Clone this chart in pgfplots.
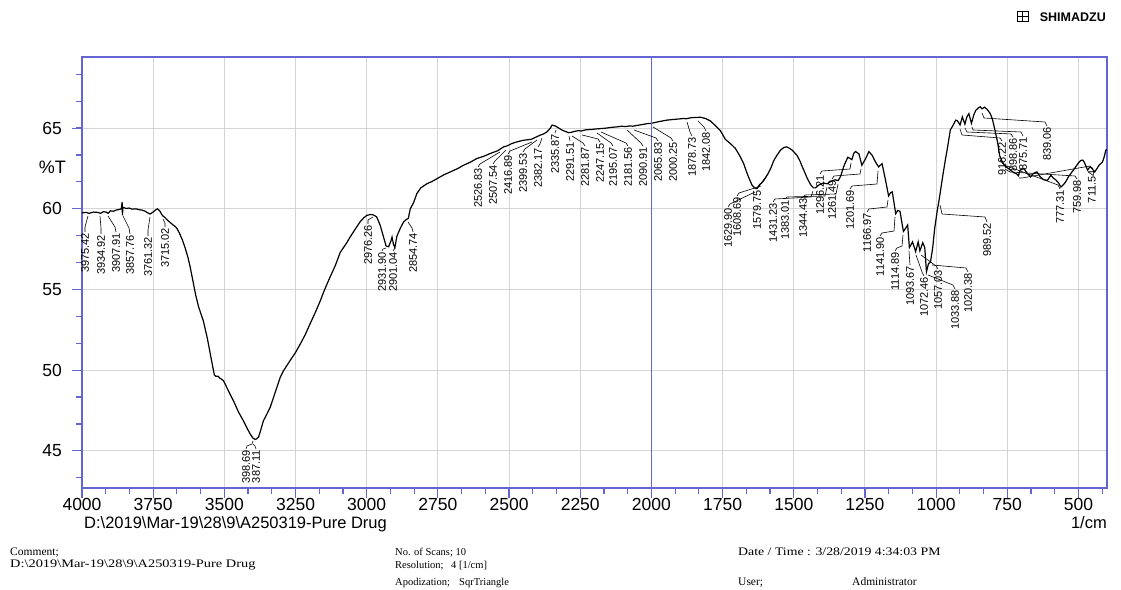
\documentclass[border=0pt]{standalone}
\usepackage{fontspec}
\usepackage{graphicx}
\setmainfont{Liberation Sans}
\newfontfamily\serif{Liberation Serif}
\usepackage{pgfplots}
\pgfplotsset{compat=1.18}
\definecolor{axblue}{RGB}{100,100,210}
\definecolor{gridgray}{RGB}{212,212,216}
\newcommand{\pkfont}{\fontsize{11}{11}\selectfont}
\newcommand{\pk}[3]{\node[rotate=90,anchor=east,inner sep=0pt,font=\pkfont] at (#1,#2) {#3};}
\begin{document}
\begin{tikzpicture}
\path[use as bounding box] (0,0) rectangle (1121pt,589pt);
\begin{axis}[
  at={(82pt,101pt)}, anchor=south west,
  width=1025pt, height=431pt, scale only axis,
  x dir=reverse, xmin=400, xmax=4000, ymin=42.7, ymax=69.41,
  xtick={500,750,...,4000}, ytick={45,50,...,65},
  minor xtick={416.667,500,...,4000}, minor ytick={43.333,45,...,68.4},
  tick pos=left, tick align=outside,
  major tick length=10pt, minor tick length=6pt,
  xmajorgrids, ymajorgrids,
  grid style={color=gridgray, line width=1pt},
  axis line style={color=axblue, line width=1.5pt},
  every tick/.style={color=axblue, line width=1.2pt},
  /pgf/number format/assume math mode=true,
  /pgf/number format/1000 sep={},
  ticklabel style={font=\fontsize{17.5}{17.5}\selectfont},
  xticklabel style={inner sep=0pt, yshift=0pt},
  yticklabel style={inner sep=0pt, xshift=-10pt},
]
\addplot[black, line width=1.2pt, mark=none] coordinates {
(4000,59.75)(3985,59.78)(3975,59.72)(3960,59.8)(3945,59.78)(3935,59.72)(3925,59.82)(3915,59.8)(3908,59.72)(3900,59.88)(3890,59.85)(3880,59.92)(3870,59.96)(3862,60.0)(3859,60.42)(3858,59.6)(3856,60.1)(3845,60.02)(3835,60.05)(3824,59.98)(3810,60.0)(3800,59.95)(3789,59.92)(3778,59.85)(3766,59.72)(3761,59.68)(3752,59.78)(3742,59.92)(3735,60.0)(3726,59.85)(3720,59.65)(3715,59.55)(3708,59.45)(3700,59.3)(3690,59.15)(3680,59.0)(3672,58.9)(3666,58.77)(3658,58.5)(3648,58.1)(3638,57.6)(3628,57.0)(3620,56.4)(3610,55.5)(3600,54.6)(3590,53.9)(3574,53.07)(3560,52.0)(3545,50.6)(3535,49.7)(3530,49.62)(3522,49.62)(3515,49.5)(3503,49.35)(3485,48.7)(3468,48.1)(3450,47.4)(3433,46.86)(3420,46.4)(3409,46.04)(3399,45.78)(3392,45.72)(3387,45.74)(3380,45.85)(3372,46.3)(3363,46.86)(3350,47.3)(3339,47.7)(3320,48.7)(3304,49.55)(3292,49.97)(3280,50.3)(3269,50.6)(3250,51.1)(3234,51.6)(3216,52.2)(3199,52.87)(3180,53.6)(3163,54.3)(3150,54.9)(3134,55.56)(3110,56.5)(3093,57.3)(3070,57.9)(3058,58.26)(3040,58.75)(3023,59.2)(3010,59.45)(2999,59.6)(2985,59.65)(2976,59.62)(2965,59.5)(2953,59.0)(2940,58.2)(2932,57.7)(2923,57.65)(2915,58.0)(2911,58.25)(2906,57.8)(2901,57.6)(2894,58.3)(2882,58.8)(2870,59.2)(2860,59.35)(2854,59.4)(2847,60.0)(2835,60.4)(2824,60.94)(2810,61.3)(2788,61.56)(2770,61.7)(2753,61.87)(2730,62.1)(2706,62.29)(2680,62.5)(2660,62.7)(2635,62.9)(2613,63.12)(2590,63.25)(2566,63.43)(2540,63.6)(2527,63.75)(2519,63.84)(2507,63.9)(2490,64.05)(2472,64.15)(2450,64.25)(2425,64.3)(2417,64.35)(2405,64.45)(2399,64.5)(2390,64.57)(2382,64.62)(2375,64.68)(2367,64.77)(2355,65.0)(2349,65.19)(2340,65.15)(2336,65.12)(2325,65.0)(2314,64.88)(2300,64.78)(2291,64.72)(2282,64.74)(2270,64.8)(2255,64.85)(2247,64.82)(2230,64.9)(2210,64.92)(2195,64.95)(2181,64.97)(2160,65.0)(2140,65.05)(2121,65.08)(2105,65.12)(2091,65.1)(2075,65.14)(2066,65.12)(2040,65.2)(2015,65.28)(2000,65.3)(1975,65.4)(1945,65.5)(1915,65.55)(1887,65.6)(1879,65.58)(1860,65.65)(1842,65.66)(1828,65.68)(1810,65.6)(1793,65.45)(1775,65.15)(1758,64.85)(1740,64.3)(1723,64.05)(1705,63.74)(1690,63.3)(1676,62.8)(1664,62.2)(1655,61.8)(1646,61.45)(1638,61.3)(1630,61.25)(1620,61.5)(1609,61.67)(1600,61.9)(1590,62.2)(1580,62.55)(1570,63.0)(1558,63.35)(1547,63.63)(1535,63.8)(1525,63.84)(1515,63.75)(1505,63.63)(1488,63.3)(1478,62.95)(1470,62.6)(1460,62.2)(1453,61.9)(1441,61.5)(1431,61.3)(1424,61.3)(1410,61.5)(1395,61.6)(1383,61.55)(1370,61.7)(1355,61.8)(1344,61.75)(1336,62.0)(1325,62.6)(1318,62.9)(1310,63.2)(1296,63.05)(1289,63.45)(1283,63.55)(1271,63.4)(1261,62.7)(1248,63.1)(1236,63.55)(1224,63.3)(1213,62.9)(1202,62.6)(1190,62.8)(1178,61.8)(1167,60.8)(1160,61.0)(1154,61.05)(1142,59.7)(1135,59.9)(1127,59.85)(1115,58.6)(1107,58.8)(1100,59.0)(1094,57.6)(1083,57.95)(1072,57.35)(1063,57.95)(1057,57.4)(1047,57.9)(1040,57.6)(1034,56.1)(1027,56.6)(1020,56.7)(1012,57.6)(1005,58.8)(996,59.9)(990,60.5)(978,61.9)(968,63.0)(960,63.8)(950,64.9)(943,65.1)(931,65.5)(925,65.45)(916,65.2)(908,65.7)(899,65.25)(892,65.7)(885,65.9)(876,65.3)(868,65.8)(861,66.1)(850,66.28)(845,66.32)(839,66.2)(830,66.3)(820,66.15)(810,65.9)(803,65.6)(795,65.0)(790,64.6)(784,64.1)(777,63.3)(770,63.0)(760,62.7)(750,62.55)(739,62.4)(728,62.25)(716,62.15)(711,62.05)(705,62.4)(692,62.5)(680,62.2)(669,61.98)(658,62.2)(646,62.29)(635,62.0)(622,61.8)(609,61.77)(597,62.08)(588,61.9)(580,61.8)(570,61.6)(562,61.35)(553,61.5)(545,61.67)(535,62.0)(527,62.19)(510,62.6)(500,62.85)(492,63.0)(485,63.02)(480,62.9)(468,62.4)(460,62.6)(454,62.56)(448,62.4)(443,62.29)(435,62.5)(428,62.7)(416,62.9)(410,63.2)(404,63.63)(400,63.7)
};
\end{axis}
\begin{scope}[x=1pt,y=-1pt,yshift=589pt]
\draw[axblue, line width=1.6pt] (651.3,57.5) -- (651.3,498);
\node[anchor=base east,font=\fontsize{18}{18}\selectfont,inner sep=0pt] at (66,174) {\%T};
\node[anchor=base west,font=\fontsize{16.5}{16.5}\selectfont,inner sep=0pt] at (84,529) {D:\textbackslash 2019\textbackslash Mar-19\textbackslash 28\textbackslash 9\textbackslash A250319-Pure Drug};
\node[anchor=base east,font=\fontsize{16.5}{16.5}\selectfont,inner sep=0pt] at (1107,529) {1/cm};
% logo
\draw[line width=1pt] (1017,12) rectangle (1028,22);
\draw[line width=1pt] (1022.5,12) -- (1022.5,22) (1017,17) -- (1028,17);
\node[anchor=base east,font=\bfseries\fontsize{12.5}{12.5}\selectfont,inner sep=0pt] at (1106,22) {SHIMADZU};
% info
\begin{scope}[every node/.style={anchor=base west,inner sep=0pt,font=\serif\fontsize{11.5}{11.5}\selectfont}]
\node at (10,555) {Comment;};
\node at (10,567) {\scalebox{1.25}[1]{D:\textbackslash 2019\textbackslash Mar-19\textbackslash 28\textbackslash 9\textbackslash A250319-Pure Drug}};
\node at (738,555) {\scalebox{1.2}[1]{Date / Time : 3/28/2019 4:34:03 PM}};
\node at (738,585) {User;};
\node at (852,585) {Administrator};
\end{scope}
\begin{scope}[every node/.style={anchor=base west,inner sep=0pt,font=\serif\fontsize{10.5}{10.5}\selectfont}]
\node at (395,555) {No. of Scans; 10};
\node at (395,569) {Resolution;};
\node at (451,569) {4 [1/cm]};
\node at (395,585) {Apodization;};
\node at (459,585) {SqrTriangle};
\end{scope}
% peak labels
\pk{85}{233}{3975.42}\pk{101}{235}{3934.92}\pk{116}{233}{3907.91}\pk{130}{235}{3857.76}\pk{148}{237}{3761.32}\pk{165}{228}{3715.02}
\pk{246}{450}{398.69}\pk{256}{450}{387.11}
\pk{368}{225}{2976.26}\pk{382}{252}{2931.90}\pk{393}{252}{2901.04}\pk{413}{233}{2854.74}
\pk{478}{168}{2526.83}\pk{493}{165}{2507.54}\pk{508}{155}{2416.89}\pk{523}{153}{2399.53}\pk{538}{148}{2382.17}\pk{555}{134}{2335.87}
\pk{570}{142}{2291.51}\pk{585}{147}{2281.87}\pk{600}{143}{2247.15}\pk{613}{147}{2195.07}\pk{628}{147}{2181.56}\pk{643}{147}{2090.91}
\pk{658}{142}{2065.83}\pk{673}{142}{2000.25}\pk{692}{137}{1878.73}\pk{706}{132}{1842.08}
\pk{728}{208}{1629.90}\pk{737}{197}{1608.69}\pk{757}{190}{1579.75}
\pk{773}{203}{1431.23}\pk{785}{200}{1383.01}\pk{803}{198}{1344.43}
\pk{820}{175}{1296.21}\pk{832}{180}{1261.49}\pk{850}{190}{1201.69}\pk{867}{213}{1166.97}\pk{880}{237}{1141.90}\pk{895}{252}{1114.89}
\pk{910}{266}{1093.67}\pk{924}{277}{1072.46}\pk{938}{270}{1057.03}\pk{955}{290}{1033.88}\pk{968}{273}{1020.38}\pk{987}{223}{989.52}
\pk{1002}{142}{916.22}\pk{1013}{138}{898.86}\pk{1023}{137}{875.71}\pk{1047}{127}{839.06}
\pk{1060}{190}{777.31}\pk{1077}{180}{759.98}\pk{1092}{170}{711.54}
\begin{scope}[line width=0.6pt]
\draw (85,232)--(85,227)--(88,216);
\draw (101,234)--(101,228)--(100,216);
\draw (116,232)--(115,227)--(108,216);
\draw (130,234)--(129,228)--(123,216);
\draw (148,236)--(148,230)--(150,217);
\draw (165,227)--(165,223)--(163,219);
\draw (246,449)--(247,446)--(252,444)--(253,441);
\draw (256,449)--(255,446)--(253,444);
\draw (368,224)--(368,220)--(373,217);
\draw (382,251)--(383,249)--(386,248);
\draw (393,251)--(395,248);
\draw (413,232)--(412,228)--(408,222);
\draw (478,167)--(480,164)--(500,152);
\draw (493,164)--(495,161)--(506,150);
\draw (508,154)--(510,151)--(532,142);
\draw (523,152)--(525,149)--(537,140);
\draw (538,147)--(540,144)--(542,138);
\draw (555,133)--(556,130);
\draw (570,141)--(569,136);
\draw (585,146)--(583,143)--(572,136);
\draw (600,142)--(598,139)--(582,135);
\draw (613,146)--(611,143)--(597,133);
\draw (628,146)--(626,143)--(601,132);
\draw (643,146)--(641,143)--(627,130);
\draw (658,141)--(656,138)--(634,130);
\draw (673,141)--(671,138)--(653,127);
\draw (692,136)--(690,132)--(687,122);
\draw (706,131)--(704,127)--(698,121);
\draw (728,207)--(730,204)--(755,192);
\draw (737,196)--(739,193)--(761,186);
\draw (757,189)--(759,186)--(768,174);
\draw (773,202)--(775,199)--(811,197)--(813,191);
\draw (785,199)--(787,197)--(825,196)--(827,187);
\draw (803,197)--(805,195)--(836,194)--(838,184);
\draw (820,174)--(822,171)--(850,169)--(851,163);
\draw (832,179)--(834,176)--(860,174)--(861,169);
\draw (850,189)--(852,186)--(877,184)--(878,171);
\draw (867,212)--(869,209)--(887,207)--(888,200);
\draw (880,236)--(882,233)--(894,231)--(895,217);
\draw (895,251)--(897,248)--(902,246)--(903,235);
\draw (910,265)--(909,251);
\draw (924,276)--(922,272)--(916,255);
\draw (938,269)--(936,266)--(921,255);
\draw (955,289)--(953,285)--(928,275);
\draw (968,272)--(966,268)--(932,265);
\draw (987,222)--(985,217)--(942,214)--(940,205);
\draw (1002,141)--(1000,138)--(962,135)--(960,129);
\draw (1013,137)--(1011,134)--(967,132)--(965,128);
\draw (1023,136)--(1021,132)--(973,130)--(972,127);
\draw (1047,126)--(1045,122)--(984,118)--(982,113);
\draw (1060,189)--(1058,185)--(1004,165)--(1000,160);
\draw (1077,179)--(1075,176)--(1010,172)--(1005,169);
\draw (1092,169)--(1090,166)--(1022,178)--(1019,178);
\end{scope}
\end{scope}
\end{tikzpicture}
\end{document}
